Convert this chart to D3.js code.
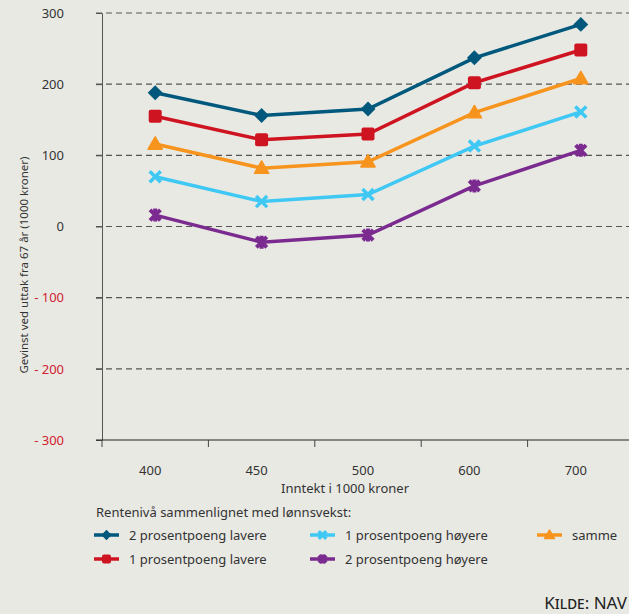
<!DOCTYPE html>
<html>
<head>
<meta charset="utf-8">
<script src="https://cdn.jsdelivr.net/npm/d3@7"></script>
<style>
  body { margin: 0; background: #e9e9e4; }
  svg { display: block; font-family: "Noto Sans", sans-serif; }
</style>
</head>
<body>
<svg id="chart" width="629" height="614"></svg>
<script>
// categories on the x axis (income in 1000 NOK)
var incomes = ["400", "450", "500", "600", "700"];
var yTicks = [300, 200, 100, 0, -100, -200, -300];

// series values (gain in 1000 NOK)
var lavere2 = [188, 156, 165, 237, 284];
var lavere1 = [155, 122, 130, 202, 248];
var samme = [116, 82, 91, 160, 208];
var hoyere1 = [70, 35, 45, 113, 161];
var hoyere2 = [16, -22, -12, 57, 107];

var seriesNames = ["2 prosentpoeng lavere", "1 prosentpoeng lavere", "samme", "1 prosentpoeng høyere", "2 prosentpoeng høyere"];

var series = [
	{ name: seriesNames[0], values: lavere2, color: "#00587c", marker: "diamond" },
	{ name: seriesNames[1], values: lavere1, color: "#cf1421", marker: "square" },
	{ name: seriesNames[2], values: samme, color: "#f7941e", marker: "triangle" },
	{ name: seriesNames[3], values: hoyere1, color: "#40c8f4", marker: "cross" },
	{ name: seriesNames[4], values: hoyere2, color: "#7b2b8f", marker: "star" }
];

var svg = d3.select("#chart");

var x = d3.scaleBand().domain(incomes).range([102, 634]);
var y = d3.scaleLinear().domain([-300, 300]).range([440, 13]);

// dashed gridlines, the bottom one is the x axis itself
svg.append("g")
	.selectAll("line")
	.data(yTicks.filter(function(d) { return d > -300; }))
	.enter().append("line")
	.attr("x1", 96).attr("x2", 629)
	.attr("y1", function(d) { return y(d); })
	.attr("y2", function(d) { return y(d); })
	.attr("stroke", "#555")
	.attr("stroke-width", 1.2)
	.attr("stroke-dasharray", "6,4");

// y axis
var yAxis = svg.append("g")
	.attr("transform", "translate(102,0)")
	.call(d3.axisLeft(y).tickValues(yTicks).tickSize(6).tickPadding(32)
		.tickFormat(function(d) { return d < 0 ? "- " + Math.abs(d) : d; }));
yAxis.select(".domain").attr("stroke", "#555");
yAxis.selectAll(".tick line").attr("stroke", "#555");
yAxis.selectAll("text")
	.attr("font-size", 13)
	.attr("font-family", "Noto Sans, sans-serif")
	.attr("fill", function(d) { return d < 0 ? "#d0212e" : "#333"; });

// x axis, ticks between the categories
var xAxis = svg.append("g").attr("transform", "translate(0,440)");
xAxis.append("line")
	.attr("x1", 96).attr("x2", 629)
	.attr("stroke", "#222").attr("stroke-width", 1.2);
xAxis.selectAll(".xtick")
	.data(incomes)
	.enter().append("line")
	.attr("class", "xtick")
	.attr("x1", function(d) { return x(d); })
	.attr("x2", function(d) { return x(d); })
	.attr("y1", 0).attr("y2", 7)
	.attr("stroke", "#444");
xAxis.selectAll(".xlabel")
	.data(incomes)
	.enter().append("text")
	.attr("x", function(d) { return x(d) + x.bandwidth() / 2 - 5; })
	.attr("y", 35)
	.attr("text-anchor", "middle")
	.attr("font-size", 13)
	.attr("fill", "#333")
	.text(function(d) { return d; });

svg.append("text")
	.attr("x", 345).attr("y", 493)
	.attr("text-anchor", "middle")
	.attr("font-size", 13)
	.attr("fill", "#333")
	.text("Inntekt i 1000 kroner");

svg.append("text")
	.attr("transform", "translate(28,265) rotate(-90)")
	.attr("text-anchor", "middle")
	.attr("font-size", 11.5)
	.attr("fill", "#333")
	.text("Gevinst ved uttak fra 67 år (1000 kroner)");

/* draws one marker shape of a series centered on 0,0 */
function drawMarker(g, type, color, s) {
	if (type == "diamond") {
		var d = s * 1.15;
		g.append("path").attr("d", "M0," + (-d) + "L" + d + ",0L0," + d + "L" + (-d) + ",0Z").attr("fill", color);
	} else if (type == "square") {
		g.append("rect").attr("x", -s).attr("y", -s).attr("width", 2 * s).attr("height", 2 * s)
			.attr("rx", 2).attr("fill", color);
	} else if (type == "triangle") {
		g.append("path").attr("d", "M0," + (-s * 1.1) + "L" + (s * 1.1) + "," + (s * 0.8) + "L" + (-s * 1.1) + "," + (s * 0.8) + "Z")
			.attr("fill", color).attr("stroke", color).attr("stroke-linejoin", "round").attr("stroke-width", 1.5);
	} else if (type == "cross") {
		var c = s * 0.85;
		g.append("path").attr("d", "M" + (-c) + "," + (-c) + "L" + c + "," + c + "M" + (-c) + "," + c + "L" + c + "," + (-c))
			.attr("stroke", color).attr("stroke-width", 3.5);
	} else {
		var c2 = s * 0.8;
		g.append("path").attr("d", "M" + (-c2) + "," + (-c2) + "L" + c2 + "," + c2 + "M" + (-c2) + "," + c2 + "L" + c2 + "," + (-c2) + "M0," + (-s) + "L0," + s)
			.attr("stroke", color).attr("stroke-width", 4);
	}
}

var line = d3.line()
	.x(function(d, i) { return x(incomes[i]) + x.bandwidth() / 2; })
	.y(function(d) { return y(d); });

series.forEach(function(s) {
	var g = svg.append("g");
	g.append("path")
		.attr("d", line(s.values))
		.attr("fill", "none")
		.attr("stroke", s.color)
		.attr("stroke-width", 3.5);
	s.values.forEach(function(v, i) {
		var m = g.append("g")
			.attr("transform", "translate(" + (x(incomes[i]) + x.bandwidth() / 2) + "," + y(v) + ")");
		drawMarker(m, s.marker, s.color, 6.5);
	});
});

// legend
svg.append("text")
	.attr("x", 96).attr("y", 517)
	.attr("font-size", 13)
	.attr("fill", "#333")
	.text("Rentenivå sammenlignet med lønnsvekst:");

var legendPos = [[94, 535], [94, 559], [537, 535], [310, 535], [310, 559]];
series.forEach(function(s, i) {
	var p = legendPos[i];
	var g = svg.append("g").attr("transform", "translate(" + p[0] + "," + p[1] + ")");
	g.append("line").attr("x1", 0).attr("x2", 25).attr("stroke", s.color).attr("stroke-width", 3.5);
	var m = g.append("g").attr("transform", "translate(12.5,0)");
	drawMarker(m, s.marker, s.color, 4.5);
	g.append("text")
		.attr("x", 35).attr("y", 4.5)
		.attr("font-size", 13)
		.attr("fill", "#333")
		.text(s.name);
});

svg.append("text")
	.attr("x", 627).attr("y", 609)
	.attr("text-anchor", "end")
	.attr("font-size", 17)
	.attr("font-variant", "small-caps")
	.attr("fill", "#222")
	.text("Kilde: NAV");
</script>
</body>
</html>
